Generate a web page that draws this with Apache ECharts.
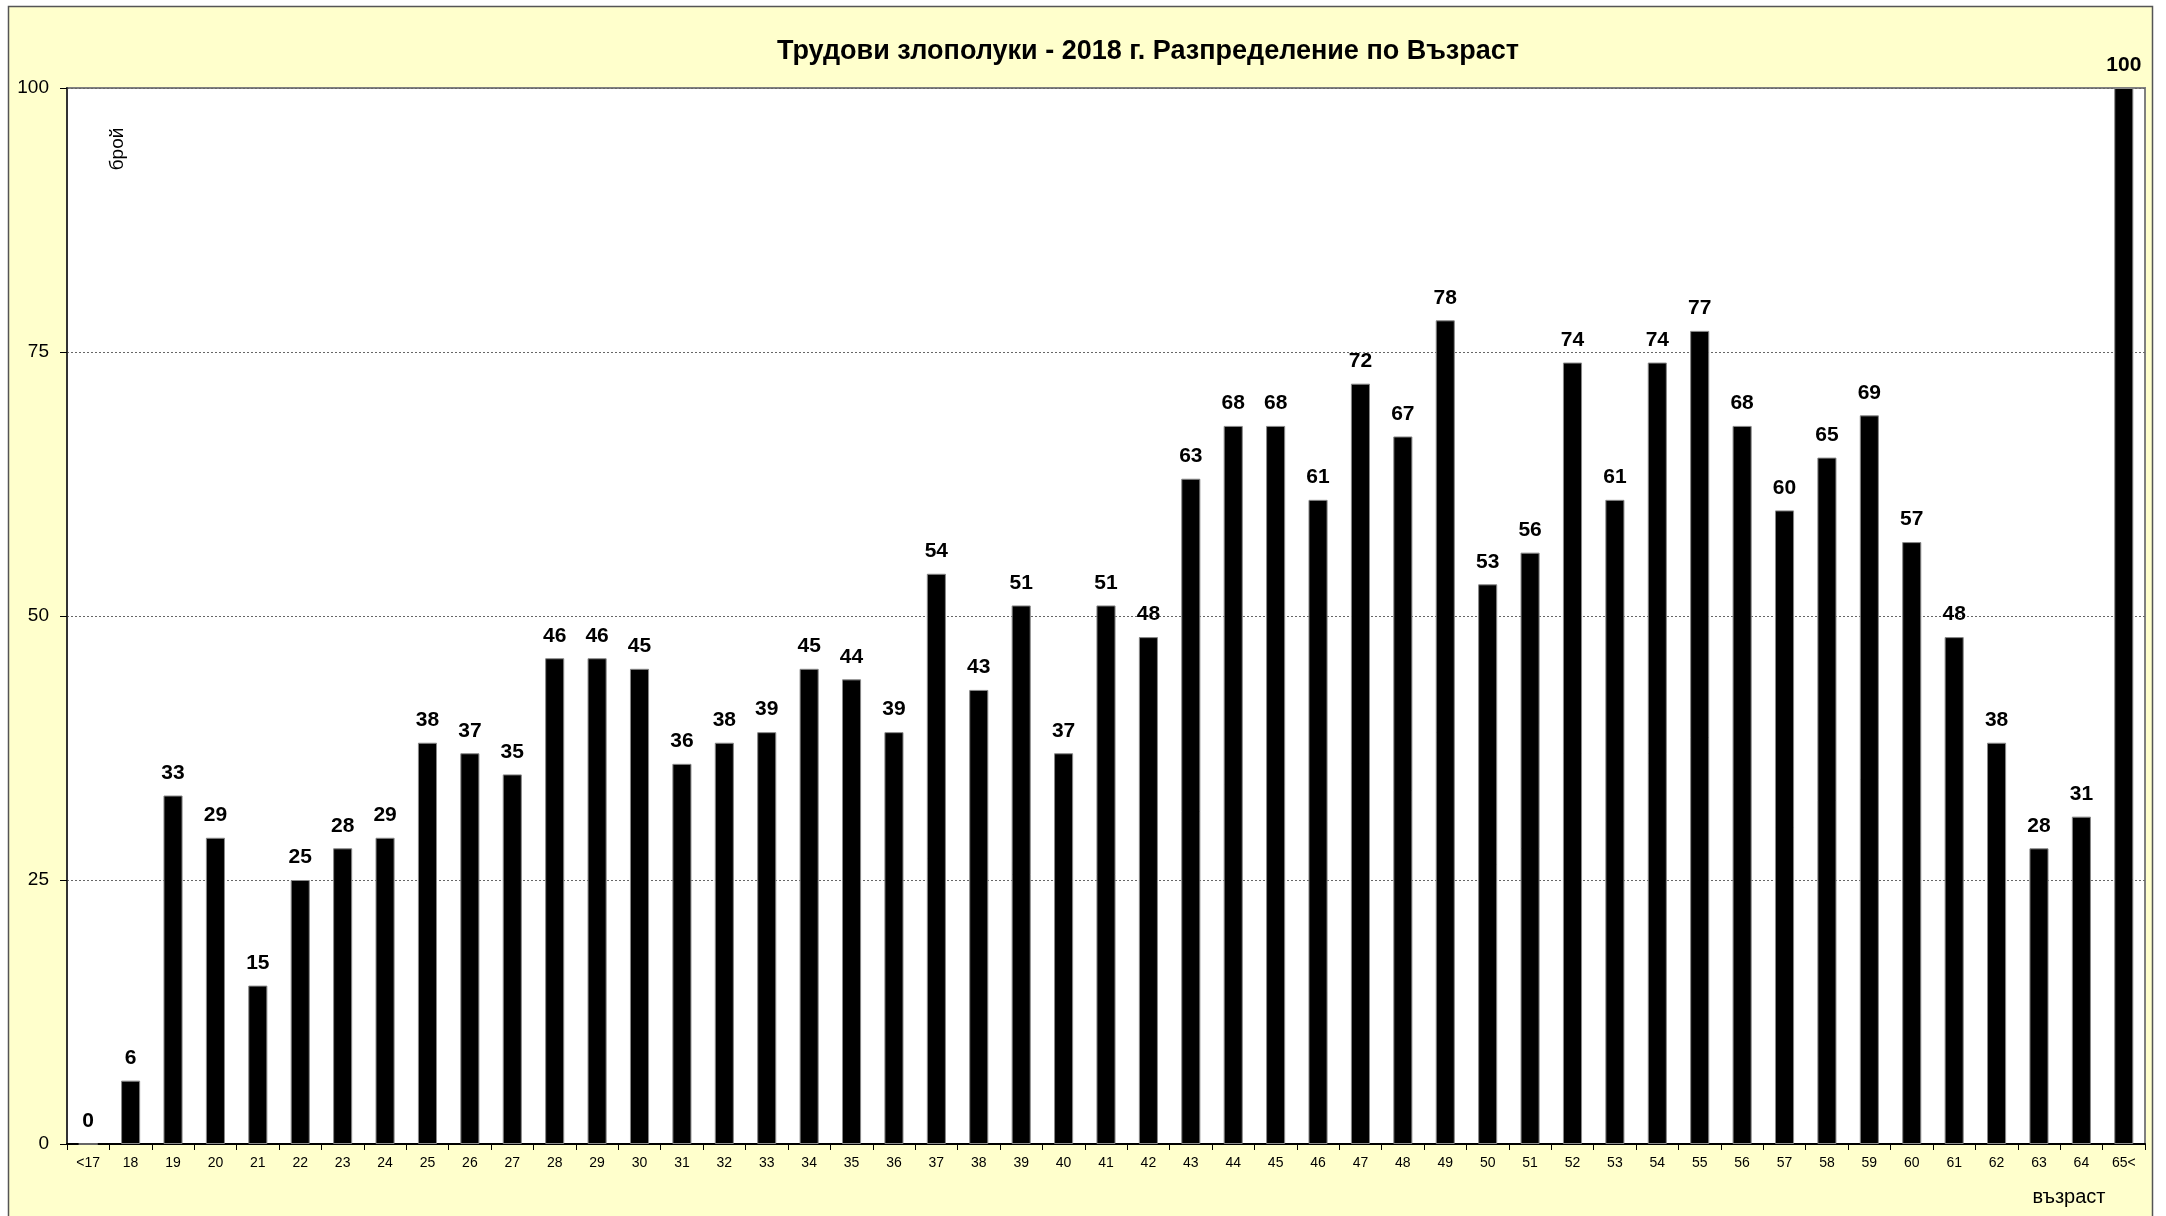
<!DOCTYPE html>
<html>
  <head>
    <meta charset="utf-8" />
    <title>Трудови злополуки - 2018 г.</title>
    <script src="https://cdn.jsdelivr.net/npm/echarts@6/dist/echarts.min.js"></script>
    <style type="text/css">
      html, body { margin: 0; padding: 0; background: #fff; }
    </style>
  </head>
  <body>
    <div id="main" style="width: 2166px; height: 1216px"></div>
    <script type="text/javascript">
      // възрастови групи
      var ages = ["<17", "18", "19", "20", "21", "22", "23", "24", "25", "26", "27", "28", "29",
        "30", "31", "32", "33", "34", "35", "36", "37", "38", "39", "40", "41", "42", "43", "44",
        "45", "46", "47", "48", "49", "50", "51", "52", "53", "54", "55", "56", "57", "58", "59",
        "60", "61", "62", "63", "64", "65<"];
      // брой злополуки
      var counts = [0, 6, 33, 29, 15, 25, 28, 29, 38, 37, 35, 46, 46, 45, 36, 38, 39, 45, 44, 39,
        54, 43, 51, 37, 51, 48, 63, 68, 68, 61, 72, 67, 78, 53, 56, 74, 61, 74, 77, 68, 60, 65, 69,
        57, 48, 38, 28, 31, 100];
      var yTicks = [0, 25, 50, 75, 100];

      var myChart = echarts.init(document.getElementById("main"));
      var font = "'Liberation Sans', Arial, sans-serif";

      option = {
        animation: false,
        backgroundColor: "#fff",
        textStyle: { fontFamily: font },
        title: {
          text: "Трудови злополуки - 2018 г. Разпределение по Възраст",
          left: 1143,
          textAlign: "center",
          top: 33,
          textStyle: {
            fontFamily: "'Liberation Sans Narrow', 'Arial Narrow', " + font,
            fontSize: 27,
            fontWeight: "bold",
            color: "#000",
          },
        },
        graphic: [
          {
            type: "rect",
            z: -10,
            shape: { x: 8.5, y: 6.5, width: 2144, height: 1220 },
            style: { fill: "#FFFFCC", stroke: "#555", lineWidth: 1.5 },
          },
          {
            type: "text",
            x: 118,
            y: 149,
            rotation: Math.PI / 2,
            style: {
              text: "брой",
              font: "19px " + font,
              fill: "#000",
              align: "center",
              verticalAlign: "middle",
            },
          },
          {
            type: "text",
            x: 2069,
            y: 1197,
            style: {
              text: "възраст",
              font: "20px " + font,
              fill: "#000",
              align: "center",
              verticalAlign: "middle",
            },
          },
        ],
        grid: {
          left: 67,
          top: 88,
          right: 21,
          bottom: 72,
          show: true,
          backgroundColor: "#fff",
          borderColor: "#808080",
          borderWidth: 2,
        },
        xAxis: {
          type: "category",
          data: ages,
          axisLine: { lineStyle: { color: "#000", width: 2 } },
          axisTick: { show: true, alignWithLabel: false, length: 6, lineStyle: { color: "#000" } },
          axisLabel: { color: "#000", fontSize: 14, margin: 12, interval: 0 },
        },
        yAxis: {
          type: "value",
          min: yTicks[0],
          max: yTicks[yTicks.length - 1],
          interval: yTicks[1] - yTicks[0],
          axisLine: { show: true, lineStyle: { color: "#333", width: 2 } },
          axisTick: { show: true, length: 7, lineStyle: { color: "#000" } },
          axisLabel: { color: "#000", fontSize: 19, margin: 18 },
          splitLine: { lineStyle: { color: "#666", type: [2, 2], width: 1 } },
        },
        series: [
          {
            type: "bar",
            data: counts,
            barWidth: "45%",
            itemStyle: { color: "#000", borderColor: "#888", borderWidth: 1 },
            label: {
              show: true,
              position: "top",
              distance: 12,
              color: "#000",
              fontSize: 21,
              fontWeight: "bold",
              fontFamily: font,
            },
          },
        ],
      };

      myChart.setOption(option);
    </script>
  </body>
</html>
